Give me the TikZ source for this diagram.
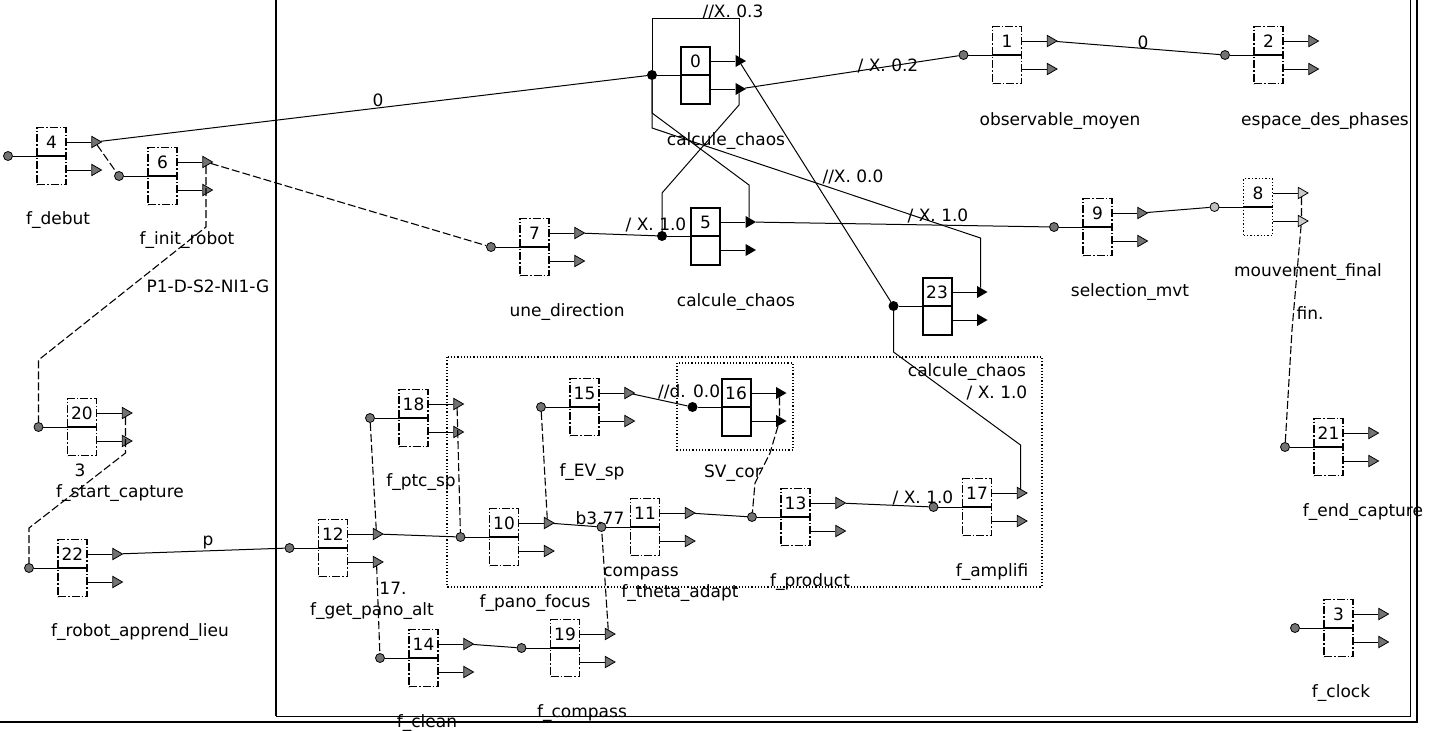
\documentclass[tikz,border=0pt]{standalone}
\usepackage{fontspec}
\setmainfont{DejaVu Sans}
\usetikzlibrary{shapes.geometric}

\tikzset{
  modbox/.style={draw, line width=1.5pt, dash pattern=on 8pt off 2pt on 1.5pt off 2pt, minimum width=29pt, minimum height=57pt, inner sep=0pt},
  solbox/.style={draw, line width=2pt, minimum width=29pt, minimum height=57pt, inner sep=0pt},
  dotbox/.style={draw, line width=1.4pt, dotted, minimum width=29pt, minimum height=57pt, inner sep=0pt},
  hin/.style={circle, draw, line width=0.8pt, fill=black!55, minimum size=9pt, inner sep=0pt},
  hout/.style={regular polygon, regular polygon sides=3, shape border rotate=-90, draw, line width=0.8pt, fill=black!55, minimum size=13pt, inner sep=0pt},
  fin/.style={circle, fill=black, minimum size=10pt, inner sep=0pt},
  fout/.style={regular polygon, regular polygon sides=3, shape border rotate=-90, fill=black, minimum size=14pt, inner sep=0pt},
  din/.style={circle, draw, line width=0.8pt, fill=black!25, minimum size=9pt, inner sep=0pt},
  dout/.style={regular polygon, regular polygon sides=3, shape border rotate=-90, draw, line width=0.8pt, fill=black!20, minimum size=13pt, inner sep=0pt},
  numtxt/.style={inner sep=0pt},
  lbl/.style={inner sep=0pt},
  link/.style={line width=1pt},
  dlink/.style={line width=1.1pt, dash pattern=on 8pt off 3pt},
}

% one module: box, divider, number, input port and two output ports
\newcommand{\fmod}[6]{%
  \node[#5] (#1) at (#2,#3) {};
  \draw[line width=1.2pt] (#1.west) -- (#1.east);
  \node[numtxt] (#1n) at (#2,{#3-14}) {#4};
  \node[#6in] (#1i) at ({#2-43.5},#3) {};
  \node[#6out] (#1a) at ({#2+43.5},{#3-14}) {};
  \node[#6out] (#1b) at ({#2+43.5},{#3+14}) {};
  \draw[line width=1pt] (#1i) -- (#1.west);
  \draw[line width=1pt] (#1.east |- #1a) -- (#1a);
  \draw[line width=1pt] (#1.east |- #1b) -- (#1b);
}

\begin{document}
\begin{tikzpicture}[x=1pt, y=-1pt, font=\fontsize{17}{20}\selectfont]
\useasboundingbox (0,0) rectangle (1441,731);

% Frames
\draw[line width=2pt] (276,-2) -- (276,716);
\draw[line width=1pt] (276,716) -- (1410,716) -- (1410,-2);
\draw[line width=2.2pt] (0,722) -- (1417,722) -- (1417,-2);
\draw[line width=1.2pt, dotted] (447,357) rectangle (1042,587);
\draw[line width=1.2pt, dotted] (677,363) rectangle (793,450);

% Modules
\fmod{m4}{51.5}{156}{4}{modbox}{h}
\fmod{m6}{162.5}{176}{6}{modbox}{h}
\fmod{m20}{82}{427}{20}{modbox}{h}
\fmod{m22}{72.5}{568}{22}{modbox}{h}
\fmod{m12}{333}{548}{12}{modbox}{h}
\fmod{m18}{413.5}{418}{18}{modbox}{h}
\fmod{m14}{423.5}{658}{14}{modbox}{h}
\fmod{m10}{504}{537}{10}{modbox}{h}
\fmod{m15}{584.5}{407}{15}{modbox}{h}
\fmod{m16}{736}{407}{16}{solbox}{f}
\fmod{m11}{645}{527}{11}{modbox}{h}
\fmod{m19}{565}{648}{19}{modbox}{h}
\fmod{m13}{795.5}{517}{13}{modbox}{h}
\fmod{m17}{977}{507}{17}{modbox}{h}
\fmod{m23}{937}{306}{23}{solbox}{f}
\fmod{m7}{534.5}{247}{7}{modbox}{h}
\fmod{m5}{705.5}{236}{5}{solbox}{f}
\fmod{m0}{695.5}{75}{0}{solbox}{f}
\fmod{m1}{1007}{55}{1}{modbox}{h}
\fmod{m2}{1268.5}{55}{2}{modbox}{h}
\fmod{m9}{1097.5}{227}{9}{modbox}{h}
\fmod{m8}{1258}{207}{8}{dotbox}{d}
\fmod{m21}{1328.5}{447}{21}{modbox}{h}
\fmod{m3}{1338.5}{628}{3}{modbox}{h}

% Module names
\node[lbl] (l4) at (58,220) {f\_debut};
\node[lbl] (l6) at (187,240) {f\_init\_robot};
\node[lbl] (l20) at (120,493) {f\_start\_capture};
\node[lbl] (l22) at (140,632) {f\_robot\_apprend\_lieu};
\node[lbl] (l12) at (372,611) {f\_get\_pano\_alt};
\node[lbl] (l18) at (421,482) {f\_ptc\_sp};
\node[lbl] (l14) at (427,723) {f\_clean};
\node[lbl] (l10) at (535,603) {f\_pano\_focus};
\node[lbl] (l15) at (592,472) {f\_EV\_sp};
\node[lbl] (l16) at (733,473) {SV\_cor};
\node[lbl] (l11) at (680,593) {f\_theta\_adapt};
\node[lbl] (l19) at (582,713) {f\_compass};
\node[lbl] (l13) at (810,582) {f\_product};
\node[lbl] (l17) at (992,572) {f\_amplifi};
\node[lbl] (l23) at (967,372) {calcule\_chaos};
\node[lbl] (l7) at (567,312) {une\_direction};
\node[lbl] (l5) at (736,302) {calcule\_chaos};
\node[lbl] (l0) at (726,141) {calcule\_chaos};
\node[lbl] (l1) at (1060,121) {observable\_moyen};
\node[lbl] (l2) at (1325,121) {espace\_des\_phases};
\node[lbl] (l9) at (1130,292) {selection\_mvt};
\node[lbl] (l8) at (1308,272) {mouvement\_final};
\node[lbl] (l21) at (1363,512) {f\_end\_capture};
\node[lbl] (l3) at (1341,693) {f\_clock};

% Bends
\coordinate (k6a) at (206,227);
\coordinate (k6b) at (38.5,360);
\coordinate (k20a) at (125.5,453);
\coordinate (k20b) at (29,528);
\coordinate (k16a) at (770,453);
\coordinate (k16b) at (755,483);
\coordinate (k0a) at (739,18);
\coordinate (k0b) at (652,18);
\coordinate (k0c) at (739,105);
\coordinate (k0d) at (662,193);
\coordinate (k5a) at (749,185);
\coordinate (k5b) at (652,113);
\coordinate (k23a) at (980.5,238);
\coordinate (k23b) at (652,128);
\coordinate (k8a) at (1292,330);
\coordinate (k17a) at (1020.5,445);
\coordinate (k17b) at (893.5,352);

% Links
\draw[link] (m4a) -- (m0i);
\draw[dlink] (m4a) -- (m6i);
\draw[dlink] (m6a) -- (m7i);
\draw[dlink] (m6a) -- (k6a) -- (k6b) -- (m20i);
\draw[dlink] (m20a) -- (k20a) -- (k20b) -- (m22i);
\draw[link] (m22a) -- (m12i);
\draw[link] (m12a) -- (m10i);
\draw[dlink] (m12a) -- (m18i);
\draw[dlink] (m12b) -- (m14i);
\draw[dlink] (m18a) -- (m10i);
\draw[link] (m10a) -- (m11i);
\draw[dlink] (m10a) -- (m15i);
\draw[link] (m15a) -- (m16i);
\draw[dlink] (m16a) -- (m16b) -- (k16a) -- (k16b) -- (m13i);
\draw[link] (m11a) -- (m13i);
\draw[link] (m13a) -- (m17i);
\draw[dlink] (m19a) -- (m11i);
\draw[link] (m14a) -- (m19i);
\draw[link] (m0a) -- (m23i);
\draw[link] (m0a) -- (k0a) -- (k0b) -- (m0i);
\draw[link] (m0b) -- (m1i);
\draw[link] (m0b) -- (k0c) -- (k0d) -- (m5i);
\draw[link] (m5a) -- (k5a) -- (k5b) -- (m0i);
\draw[link] (m23a) -- (k23a) -- (k23b) -- (m0i);
\draw[link] (m7a) -- (m5i);
\draw[link] (m5a) -- (m9i);
\draw[link] (m9a) -- (m8i);
\draw[dlink] (m8a) -- (m8b) -- (k8a) -- (m21i);
\draw[link] (m1a) -- (m2i);
\draw[link] (m17a) -- (k17a) -- (k17b) -- (m23i);

% Link labels
\node[lbl] (t1) at (378,100) {0};
\node[lbl] (t2) at (208,286) {P1-D-S2-NI1-G};
\node[lbl] (t3) at (80,470) {3};
\node[lbl] (t4) at (208,543) {p};
\node[lbl] (t5) at (393,588) {17.};
\node[lbl] (t6) at (600,518) {b3.77};
\node[lbl, anchor=west] (t7) at (658,392) {//d. 0.0};
\node[lbl] (t8) at (641,574) {compass};
\node[lbl] (t9) at (923,498) {/ X. 1.0};
\node[lbl] (t10) at (853,177) {//X. 0.0};
\node[lbl] (t11) at (733,12) {//X. 0.3};
\node[lbl] (t12) at (888,66) {/ X. 0.2};
\node[lbl] (t13) at (938,216) {/ X. 1.0};
\node[lbl] (t14) at (656,225) {/ X. 1.0};
\node[lbl] (t15) at (1143,42) {0};
\node[lbl] (t16) at (1310,313) {fin.};
\node[lbl] (t17) at (997,393) {/ X. 1.0};

\end{tikzpicture}
\end{document}
